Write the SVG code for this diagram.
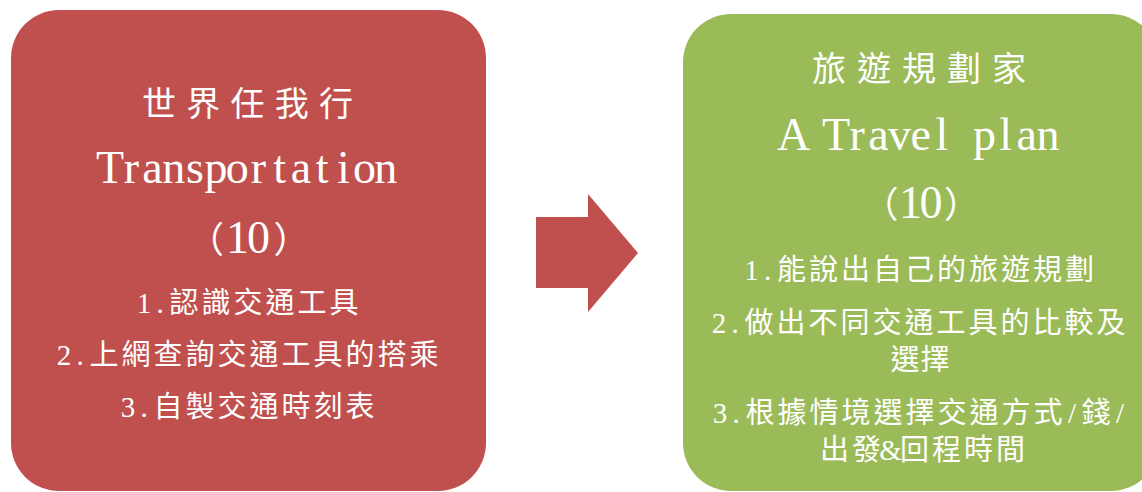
<svg xmlns="http://www.w3.org/2000/svg" width="1142" height="492" viewBox="0 0 1142 492">
<style>
.t{fill:#fff;text-anchor:middle;font-family:"Liberation Serif","Noto Sans CJK TC",serif}
.big{font-size:46px}
.ttl{font-size:34px}
.sm{font-size:29px}
.par{font-size:36px;font-family:"Noto Sans CJK TC",sans-serif}
</style>
<rect width="1142" height="492" fill="#fff"/>
<g id="node-transport">
<rect x="11" y="10" width="475" height="481" rx="48" fill="#C0504D"/>
<text class="t ttl" x="159 203.25 247.5 291.75 336" y="116">世界任我行</text>
<text class="t big" x="110.1 131.3 152.5 173.7 194.9 216.1 237.3 258.5 279.7 300.9 322.1 343.3 364.5 385.7" y="183">Transportation</text>
<text class="t par" x="206" y="253">（</text>
<text class="t big" x="237.5 258.5" y="253">10</text>
<text class="t par" x="291.5" y="253">）</text>
<text class="t sm" x="144 160 184 216 248 280 312 344" y="313">1.認識交通工具</text>
<text class="t sm" x="64 80 104 136 168 200 232 264 296 328 360 392 424" y="365">2.上網查詢交通工具的搭乘</text>
<text class="t sm" x="128 144 168 200 232 264 296 328 360" y="417">3.自製交通時刻表</text>
</g>
<g id="connectors">
<polygon points="536,217 588,217 588,194 638,253 588,312 588,288 536,288" fill="#C0504D"/>
</g>
<g id="node-travel">
<rect x="683" y="14" width="476" height="477" rx="48" fill="#9BBB59"/>
<text class="t ttl" x="829 874 919 964 1009" y="81">旅遊規劃家</text>
<text class="t big" x="793.6 814.8 836 857.2 878.4 899.6 920.8 942 963.2 984.4 1005.6 1026.8 1048" y="150">A Travel plan</text>
<text class="t par" x="880.5" y="218">（</text>
<text class="t big" x="910.5 931" y="218">10</text>
<text class="t par" x="962" y="218">）</text>
<text class="t sm" x="751.5 767.5 791.5 823.5 855.5 887.5 919.5 951.5 983.5 1015.5 1047.5 1079.5" y="280">1.能說出自己的旅遊規劃</text>
<text class="t sm" x="719 735 759 791 823 855 887 919 951 983 1015 1047 1079 1111" y="333">2.做出不同交通工具的比較及</text>
<text class="t sm" x="905 935" y="370">選擇</text>
<text class="t sm" x="720 736 760 792 824 856 888 920 952 984 1016 1048 1072 1096 1120" y="423">3.根據情境選擇交通方式/錢/</text>
<text class="t sm" x="834.5 866.5 890.5 914.5 946.5 978.5 1010.5" y="460">出發&amp;回程時間</text>
</g>
</svg>
